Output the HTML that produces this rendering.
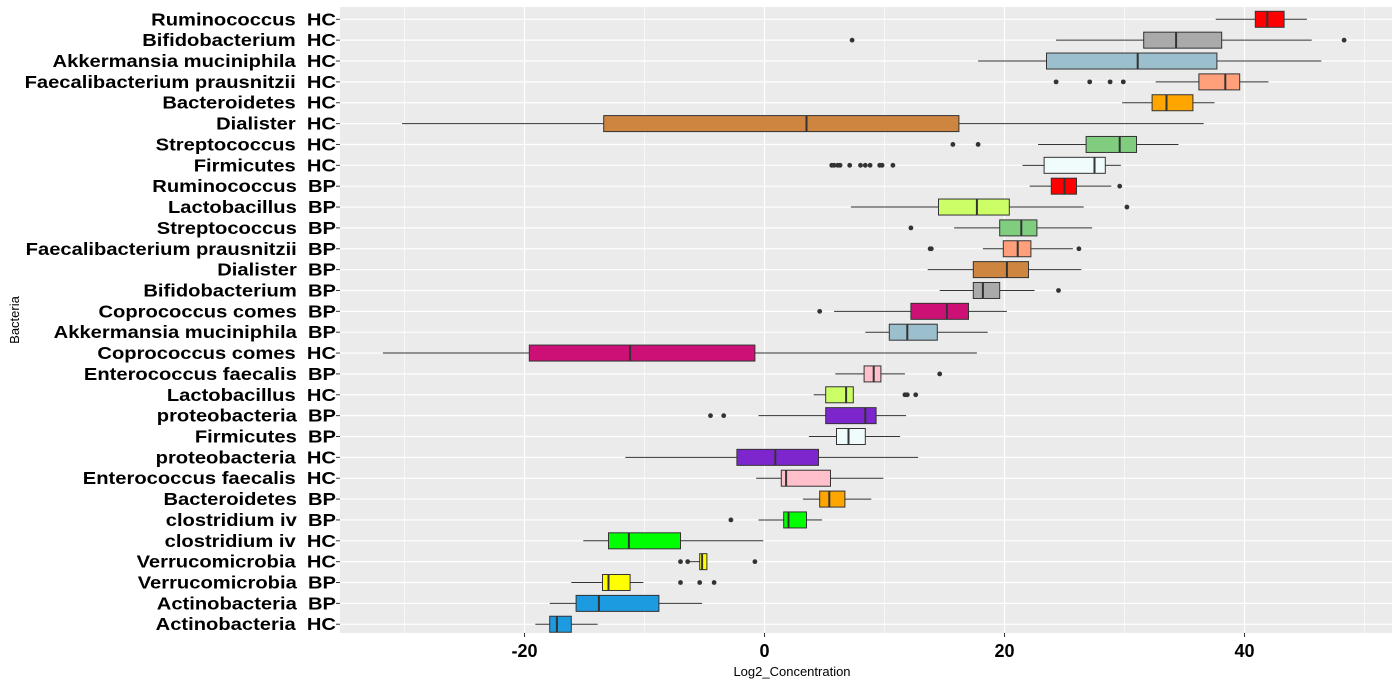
<!DOCTYPE html>
<html><head><meta charset="utf-8"><style>
html,body{margin:0;padding:0;background:#fff;}
svg{display:block;font-family:"Liberation Sans",Arial,sans-serif;}
</style></head><body>
<svg id="chart" width="1392" height="686" viewBox="0 0 1392 686" xmlns="http://www.w3.org/2000/svg">
<rect x="340" y="7" width="1052" height="626" fill="#ebebeb"/>
<g id="grid"></g><g id="marks"></g><g id="ylabels"></g><g id="xticks"></g>
<text x="792" y="676" font-size="13" text-anchor="middle" fill="#000">Log2_Concentration</text>
<text transform="translate(19,320) rotate(-90)" font-size="13" text-anchor="middle" fill="#000">Bacteria</text>
</svg>
<script>
const categories=["Ruminococcus  HC","Bifidobacterium  HC","Akkermansia muciniphila  HC","Faecalibacterium prausnitzii  HC","Bacteroidetes  HC","Dialister  HC","Streptococcus  HC","Firmicutes  HC","Ruminococcus  BP","Lactobacillus  BP","Streptococcus  BP","Faecalibacterium prausnitzii  BP","Dialister  BP","Bifidobacterium  BP","Coprococcus comes  BP","Akkermansia muciniphila  BP","Coprococcus comes  HC","Enterococcus faecalis  BP","Lactobacillus  HC","proteobacteria  BP","Firmicutes  BP","proteobacteria  HC","Enterococcus faecalis  HC","Bacteroidetes  BP","clostridium iv  BP","clostridium iv  HC","Verrucomicrobia  HC","Verrucomicrobia  BP","Actinobacteria  BP","Actinobacteria  HC"];
const whiskerLow=[37.6,24.3,17.8,32.6,29.8,-30.2,22.8,21.5,22.1,7.2,15.8,18.2,13.6,14.6,5.8,8.4,-31.8,5.9,4.1,-0.5,3.7,-11.6,-0.7,3.2,-0.5,-15.1,-6.3,-16.1,-17.9,-19.1];
const q1=[40.9,31.6,23.5,36.2,32.3,-13.4,26.8,23.3,23.9,14.5,19.6,19.9,17.4,17.4,12.2,10.4,-19.6,8.3,5.1,5.1,6.0,-2.3,1.4,4.6,1.6,-13.0,-5.4,-13.5,-15.7,-17.9];
const medians=[41.9,34.3,31.1,38.4,33.5,3.5,29.6,27.5,25.0,17.7,21.4,21.1,20.2,18.2,15.2,11.9,-11.2,9.1,6.8,8.4,7.0,0.9,1.8,5.4,2.0,-11.3,-5.2,-13.0,-13.8,-17.3];
const q3=[43.3,38.1,37.7,39.6,35.7,16.2,31.0,28.4,26.0,20.4,22.7,22.2,22.0,19.6,17.0,14.4,-0.8,9.7,7.4,9.3,8.4,4.5,5.5,6.7,3.5,-7.0,-4.8,-11.2,-8.8,-16.1];
const whiskerHigh=[45.2,45.6,46.4,42.0,37.5,36.6,34.5,29.7,28.9,26.6,27.3,25.7,26.4,22.5,20.2,18.6,17.7,11.7,7.4,11.8,11.3,12.8,9.9,8.9,4.8,-0.1,-4.8,-10.1,-5.2,-13.9];
const outliers=[[],[7.3,48.3],[],[24.3,27.1,28.8,29.9],[],[],[15.7,17.8],[5.6,5.8,6.1,6.3,7.1,8.0,8.4,8.8,9.6,9.8,10.7],[29.6],[30.2],[12.2],[13.8,13.9,26.2],[],[24.5],[4.6],[],[],[14.6],[11.7,11.9,12.6],[-4.5,-3.4],[],[],[],[],[-2.8],[],[-7.0,-6.4,-0.8],[-7.0,-5.4,-4.2],[],[]];
const fills=["#ff0000","#aaaaaa","#9bbfcc","#ffa07a","#ffa500","#cd853f","#80cd7f","#f0fcfc","#ff0000","#ccff66","#80cd7f","#ffa07a","#cd853f","#aaaaaa","#cd1076","#9bbfcc","#cd1076","#ffc0cb","#ccff66","#7d26cd","#f0fcfc","#7d26cd","#ffc0cb","#ffa500","#00ff00","#00ff00","#ffff00","#ffff00","#1c9be0","#1c9be0"];
const xTicks=[-20,0,20,40];
const xMinor=[-30,-10,10,30,50];
const NS="http://www.w3.org/2000/svg";
function xs(v){return 764.5+v*12.0;}
function ys(i){return 19.3+i*20.86;}
function mk(tag,attrs,parent){const e=document.createElementNS(NS,tag);for(const k in attrs)e.setAttribute(k,attrs[k]);parent.appendChild(e);return e;}
const grid=document.getElementById('grid'),marks=document.getElementById('marks'),yl=document.getElementById('ylabels'),xt=document.getElementById('xticks');
xMinor.forEach(v=>{const l=mk('line',{x1:xs(v),x2:xs(v),y1:7,y2:633,stroke:'#fff','stroke-width':0.6},grid);

});
xTicks.forEach(v=>{const l=mk('line',{x1:xs(v),x2:xs(v),y1:7,y2:633,stroke:'#fff','stroke-width':1.2},grid);


const tk=mk('line',{x1:xs(v),x2:xs(v),y1:633,y2:637,stroke:'#333','stroke-width':1},xt);


const t=mk('text',{x:xs(v),y:657,'font-size':18,'font-weight':'bold','text-anchor':'middle',fill:'#000'},xt);t.textContent=v;

});
categories.forEach((c,i)=>{const y=ys(i);
const g=mk('line',{x1:340,x2:1392,y1:y,y2:y,stroke:'#fff','stroke-width':1.2},grid);


const t=mk('text',{transform:'translate(336,'+(y+6)+') scale(1.12,1)','font-size':18,'font-weight':'bold','text-anchor':'end',fill:'#000',style:'white-space:pre'},yl);t.textContent=c;


const tk=mk('line',{x1:336,x2:340,y1:y,y2:y,stroke:'#333'},yl);


const grp=mk('g',{},marks);


mk('line',{x1:xs(whiskerLow[i]),x2:xs(q1[i]),y1:y,y2:y,stroke:'#333','stroke-width':1},grp);
mk('line',{x1:xs(q3[i]),x2:xs(whiskerHigh[i]),y1:y,y2:y,stroke:'#333','stroke-width':1},grp);
mk('rect',{x:xs(q1[i]),y:y-8,width:Math.max(1,xs(q3[i])-xs(q1[i])),height:16,fill:fills[i],stroke:'#333','stroke-width':1},grp);
mk('line',{x1:xs(medians[i]),x2:xs(medians[i]),y1:y-8,y2:y+8,stroke:'#333','stroke-width':2},grp);
outliers[i].forEach(o=>{const d=mk('circle',{cx:xs(o),cy:y,r:2.4,fill:'#333'},grp);

});
});
</script>
</body></html>
